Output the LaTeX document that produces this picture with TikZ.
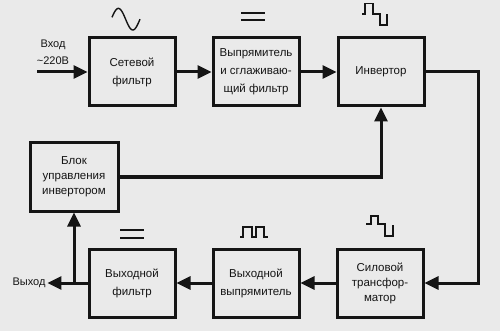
\documentclass[tikz,border=0pt]{standalone}
\usepackage{fontspec}
\setmainfont{Liberation Sans}
\usetikzlibrary{arrows.meta,positioning}
\definecolor{bg}{HTML}{EAEAEA}
\definecolor{ink}{HTML}{151515}
\tikzset{
  blk/.style={draw=ink,line width=3pt,fill=bg,minimum width=86pt,minimum height=68pt,align=center,inner sep=2pt,font=\fontsize{11.5}{18}\selectfont,text=ink},
  tblk/.style={blk,font=\fontsize{11.5}{15}\selectfont},
  ar/.style={-{Triangle[length=14pt,width=13pt]},line width=3pt,draw=ink},
  wave/.style={line width=1.4pt,draw=ink},
  lbl/.style={font=\fontsize{11}{17}\selectfont,text=ink,inner sep=0pt,outer sep=2pt,align=center},
}

\begin{document}
\begin{tikzpicture}[x=1pt,y=-1pt]
\fill[bg] (0,0) rectangle (500,331);
\useasboundingbox (0,0) rectangle (500,331);
% upper row
\node[blk] (netf) at (132,72) {Сетевой\\фильтр};
\node[blk] (rect) at (256,72) {Выпрямитель\\и сглаживаю-\\щий фильтр};
\node[blk] (inv) at (381,72) {Инвертор};
\node[tblk,minimum width=88pt] (ctrl) at (74,177) {Блок\\управления\\инвертором};
% lower row
\node[tblk] (trf) at (380,283) {Силовой\\трансфор-\\матор};
\node[blk] (orect) at (256,283) {Выходной\\выпрямитель};
\node[blk] (ofilt) at (132,283) {Выходной\\фильтр};
\node[lbl] (inlbl) at (53,52) {Вход\\\textasciitilde220В};
\node[lbl] (outlbl) at (29,283) {Выход};
\coordinate (in) at (37,72);
\coordinate (turn) at (478,72);
\coordinate (tap) at (ctrl.south |- ofilt.west);
\draw[ar] (in) -- (netf.west);
\draw[ar] (netf) -- (rect);
\draw[ar] (rect) -- (inv);
\draw[ar] (inv.east) -- (turn) |- (trf.east);
\draw[ar] (trf) -- (orect);
\draw[ar] (orect) -- (ofilt);
\draw[ar] (ofilt) -- (outlbl);
\draw[ar] (tap) -- (ctrl.south);
\draw[ar] (ctrl.east) -| (inv.south);
% waveforms
\draw[wave] plot[domain=10:360,samples=50] ({112+(\x-10)/350*28},{19.2-10.8*sin(\x)});
\draw[wave] (241,13) -- (265,13) (241,20) -- (265,20);
\draw[wave] (362,14) -- (365,14) -- (365,3.5) -- (373,3.5) -- (373,14) -- (380,14) -- (380,25) -- (387,25) -- (387,14);
\draw[wave] (366,224) -- (371,224) -- (371,216) -- (378,216) -- (378,224) -- (385,224) -- (385,236) -- (393,236) -- (393,225);
\draw[wave] (240,237) -- (243,237) -- (243,227) -- (252,227) -- (252,237) -- (256,237) -- (256,227) -- (264,227) -- (264,237) -- (268,237);
\draw[wave] (120,230) -- (144,230) (120,238) -- (144,238);
\end{tikzpicture}
\end{document}
